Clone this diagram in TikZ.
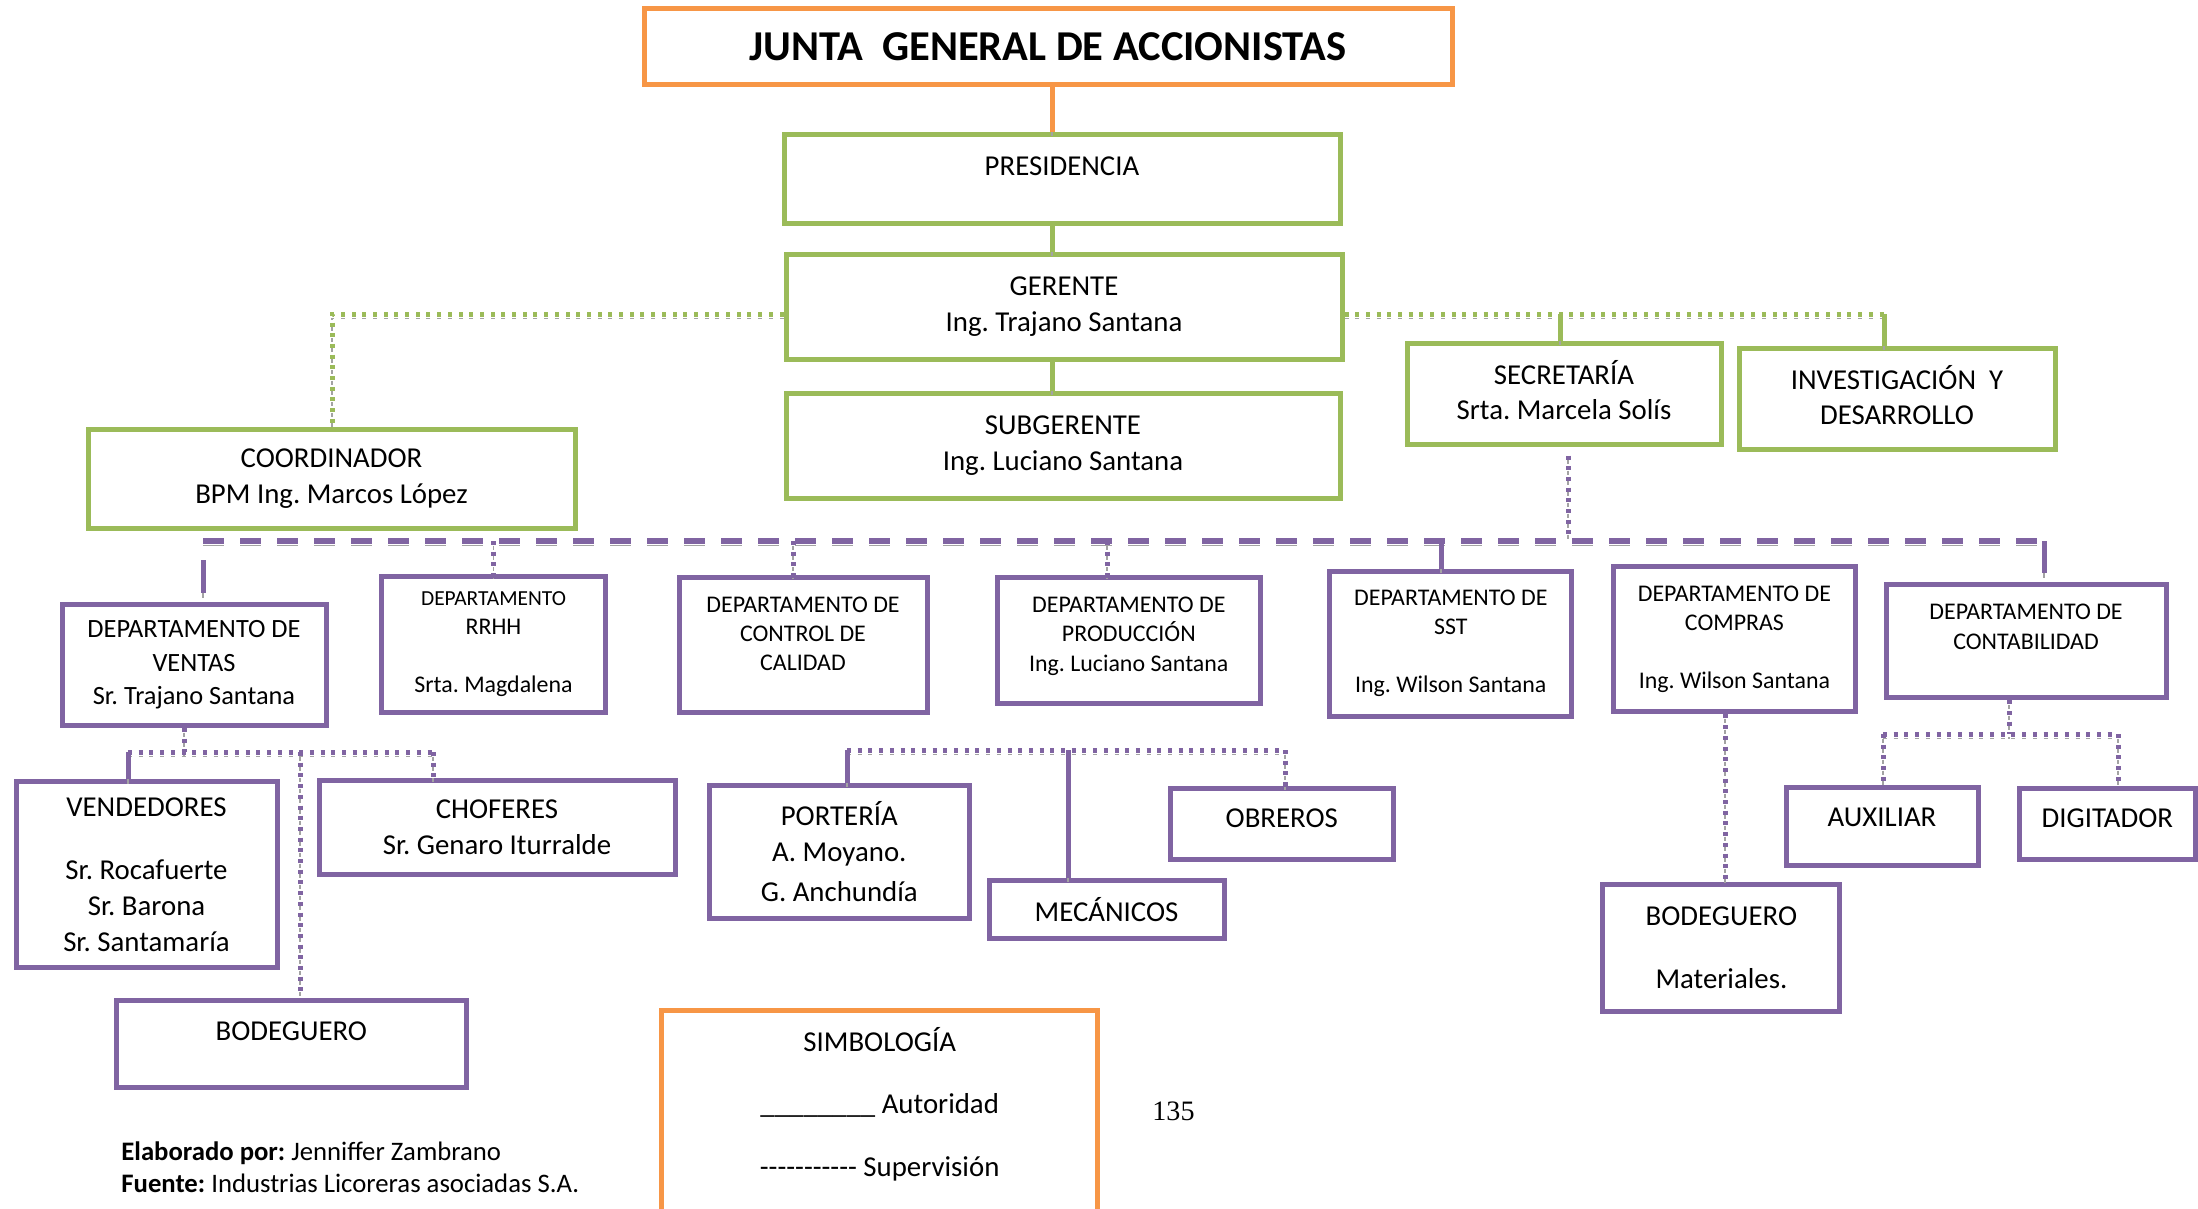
\documentclass[tikz,border=0pt]{standalone}
\usepackage{fontspec}
\setmainfont{Carlito}
\newfontfamily\pagefont{Liberation Serif}
\frenchspacing
\definecolor{ogreen}{HTML}{9BBB59}
\definecolor{opurple}{HTML}{8064A2}
\definecolor{oorange}{HTML}{F79646}
\definecolor{shgrey}{HTML}{A3A3A3}
\newcommand{\hy}{-\kern0pt}

\begin{document}
\begin{tikzpicture}[x=0.1mm,y=-0.1mm,
  box/.style={draw,line width=0.5mm,fill=white,align=center,inner sep=0pt},
  gbox/.style={box,draw=ogreen},
  pbox/.style={box,draw=opurple},
  obox/.style={box,draw=oorange},
  big/.style={font=\fontsize{8.2}{10.2}\selectfont},
  mid/.style={font=\fontsize{7.5}{9.5}\selectfont},
  sml/.style={font=\fontsize{6.8}{8.3}\selectfont},
  shd/.style={preaction={draw=shgrey,#1,transform canvas={yshift=-0.45mm}}},
  auth/.style={shd={solid},line width=0.5mm},
  supv/.style={shd={dash pattern=on 0.4mm off 0.67mm},line width=0.5mm,dash pattern=on 0.4mm off 0.67mm},
  bus/.style={shd={dash pattern=on 2.1mm off 1.6mm},line width=0.55mm,dash pattern=on 2.1mm off 1.6mm,draw=opurple}]
\useasboundingbox (0,0) rectangle (2198,1208);
% top of the chart
\node[obox,minimum width=80.8mm,minimum height=7.6mm,font=\fontsize{12.1}{14}\selectfont\bfseries] (junta) at (1048,46.5) {JUNTA\ \ GENERAL DE ACCIONISTAS};
\node[gbox,big,minimum width=55.6mm,minimum height=8.9mm] (pres) at (1062,178.5) {PRESIDENCIA\\[-3pt]~};
\node[gbox,big,minimum width=55.6mm,minimum height=10.5mm] (ger) at (1064,306.5) {GERENTE\\Ing. Trajano Santana};
\node[gbox,big,minimum width=55.4mm,minimum height=10.5mm] (subg) at (1063,445.5) {SUBGERENTE\\Ing. Luciano Santana};
\node[gbox,big,minimum width=48.7mm,minimum height=9.9mm] (coord) at (331.5,478.5) {COORDINADOR\\BPM Ing. Marcos López};
\node[gbox,big,minimum width=31.4mm,minimum height=10.1mm,text depth=2pt] (secr) at (1564,393.5) {SECRETARÍA\\Srta. Marcela Solís};
\node[gbox,big,minimum width=31.6mm,minimum height=10.1mm,text depth=2pt] (inv) at (1897,398.5) {INVESTIGACIÓN\ \ Y\\DESARROLLO};
% departments
\node[pbox,mid,minimum width=26.4mm,minimum height=12.1mm] (ventas) at (194,665) {DEPARTAMENTO DE\\VENTAS\\Sr. Trajano Santana};
\node[pbox,sml,minimum width=22.4mm,minimum height=13.6mm] (rrhh) at (493.5,644) {{\fontsize{6.1}{8}\selectfont DEPARTAMENTO}\\RRHH\\~\\Srta. Magdalena};
\node[pbox,sml,minimum width=24.8mm,minimum height=13.5mm] (cal) at (803,644.5) {DEPARTAMENTO DE\\CONTROL DE\\CALIDAD\\[-2pt]~};
\node[pbox,sml,minimum width=26.3mm,minimum height=12.6mm] (prod) at (1128.8,640) {DEPARTAMENTO DE\\PRODUCCIÓN\\Ing. Luciano Santana\\[-5pt]~};
\node[pbox,sml,minimum width=24.2mm,minimum height=14.5mm] (sst) at (1450.8,643.5) {DEPARTAMENTO DE\\SST\\~\\Ing. Wilson Santana};
\node[pbox,sml,minimum width=24.2mm,minimum height=14.5mm] (comp) at (1734.4,639.4) {DEPARTAMENTO DE\\COMPRAS\\~\\Ing. Wilson Santana};
\node[pbox,sml,minimum width=28mm,minimum height=11.3mm] (cont) at (2026,641.3) {DEPARTAMENTO DE\\CONTABILIDAD\\~};
% staff
\node[pbox,big,minimum width=26.1mm,minimum height=18.6mm] (vend) at (146.5,874.5) {VENDEDORES\\[7.7pt]Sr. Rocafuerte\\Sr. Barona\\Sr. Santamaría};
\node[pbox,big,minimum width=35.6mm,minimum height=9.4mm] (chof) at (497,827.6) {CHOFERES\\Sr. Genaro Iturralde};
\node[pbox,big,minimum width=35mm,minimum height=8.7mm] (bod) at (291.3,1043.8) {BODEGUERO\\[-3pt]~};
\node[pbox,big,minimum width=26mm,minimum height=13.3mm] (port) at (839.3,851.8) {PORTERÍA\\A. Moyano.\\[1.3pt]G. Anchundía};
\node[pbox,big,minimum width=23.5mm,minimum height=5.8mm] (mec) at (1106.5,909.3) {MECÁNICOS};
\node[pbox,big,minimum width=22.3mm,minimum height=7.1mm,text depth=3.5pt] (obr) at (1281.8,823.9) {OBREROS};
\node[pbox,big,minimum width=23.7mm,minimum height=12.7mm] (bod2) at (1721.4,947.5) {BODEGUERO\\[7.6pt]Materiales.};
\node[pbox,big,minimum width=19.2mm,minimum height=7.8mm,text depth=5pt] (aux) at (1882,826) {AUXILIAR};
\node[pbox,big,minimum width=17.6mm,minimum height=7.1mm,text depth=3.5pt] (dig) at (2107.3,823.8) {DIGITADOR};
% legend and footer
\node[obox,big,minimum width=43.6mm,minimum height=20.2mm] (simb) at (879.7,1111) {SIMBOLOGÍA\\[7.7pt]\_\_\_\_\_\_\_\_ Autoridad\\[7.7pt]\hy\hy\hy\hy\hy\hy\hy\hy\hy\hy\hy{} Supervisión\\[-5pt]~};
\node[anchor=base west,font=\fontsize{7.6}{9}\selectfont,inner sep=0pt] (elab) at (120.7,1160) {\textbf{Elaborado por:} Jenniffer Zambrano};
\node[anchor=base west,font=\fontsize{7.6}{9}\selectfont,inner sep=0pt] (fuente) at (120.7,1192) {\textbf{Fuente:} Industrias Licoreras asociadas S.A.};
\node[font=\pagefont\fontsize{8}{10}\selectfont,inner sep=0pt] (pgnum) at (1173.5,1111) {135};
% authority lines
\coordinate (cx) at (1052,0);
\draw[auth,oorange] (junta.south -| cx) -- (pres.north -| cx);
\draw[auth,ogreen] (pres.south -| cx) -- (ger.north -| cx);
\draw[auth,ogreen] (ger.south -| cx) -- (subg.north -| cx);
\coordinate (gl) at (332,314);
\coordinate (gs) at (1560,314);
\coordinate (gr) at (1884,314);
\draw[supv,ogreen] (ger.west |- gl) -- (gl) -- (coord.north -| gl);
\draw[supv,ogreen] (ger.east |- gr) -- (gr);
\draw[auth,ogreen] (gs) -- (secr.north -| gs);
\draw[auth,ogreen] (gr) -- (inv.north -| gr);
% department bus
\coordinate (bl) at (203,541);
\coordinate (br) at (2044,541);
\coordinate (ps) at (1568,541);
\coordinate (pc) at (793,541);
\coordinate (pp) at (1107,541);
\coordinate (pt) at (1441,541);
\draw[bus] (bl) -- (br);
\draw[supv,opurple,shorten <=0.9mm] (secr.south -| ps) -- (ps);
\draw[auth,opurple,shorten <=1.9mm,shorten >=0.9mm] (bl) -- (bl |- ventas.north);
\draw[supv,opurple] (bl -| rrhh.north) -- (rrhh.north);
\draw[supv,opurple] (pc) -- (pc |- cal.north);
\draw[supv,opurple] (pp) -- (pp |- prod.north);
\draw[auth,opurple] (pt) -- (pt |- sst.north);
\draw[auth,opurple,shorten >=0.9mm] (br) -- (br |- cont.north);
% sales staff
\coordinate (vl) at (128,752);
\coordinate (vm) at (184,752);
\coordinate (vb) at (300,752);
\coordinate (vr) at (433,752);
\draw[supv,opurple] (ventas.south -| vm) -- (vm);
\draw[supv,opurple] (vl) -- (vr);
\draw[auth,opurple] (vl) -- (vl |- vend.north);
\draw[supv,opurple] (vb) -- (vb |- bod.north);
\draw[supv,opurple] (vr) -- (vr |- chof.north);
% production staff
\coordinate (ql) at (847,750);
\coordinate (qm) at (1068,750);
\coordinate (qr) at (1285,750);
\draw[supv,opurple] (ql) -- (qr);
\draw[auth,opurple] (ql) -- (ql |- port.north);
\draw[auth,opurple] (qm) -- (qm |- mec.north);
\draw[supv,opurple] (qr) -- (qr |- obr.north);
% purchasing and accounting staff
\coordinate (kb) at (1725,0);
\draw[supv,opurple] (comp.south -| kb) -- (bod2.north -| kb);
\coordinate (tl) at (1883,734);
\coordinate (tm) at (2009,734);
\coordinate (tr) at (2118,734);
\draw[supv,opurple] (cont.south -| tm) -- (tm);
\draw[supv,opurple] (tl) -- (tr);
\draw[supv,opurple] (tl) -- (tl |- aux.north);
\draw[supv,opurple] (tr) -- (tr |- dig.north);
\end{tikzpicture}
\end{document}
